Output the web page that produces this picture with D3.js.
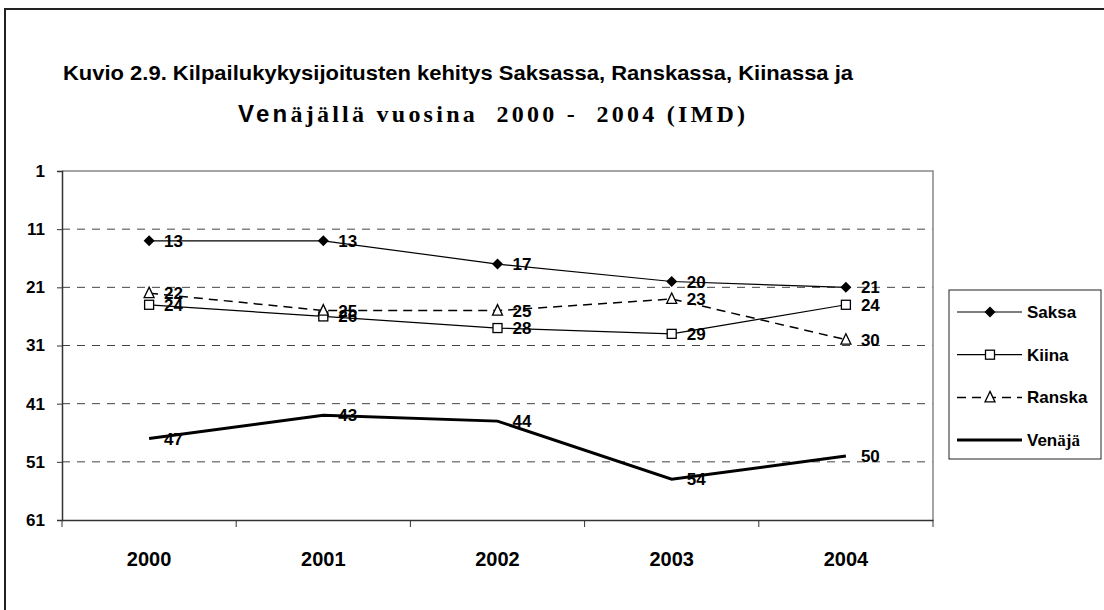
<!DOCTYPE html>
<html>
<head>
<meta charset="utf-8">
<script src="https://cdn.jsdelivr.net/npm/d3@7"></script>
<style>
  body { margin: 0; background: #fff; }
  text { font-family: Arial, "Liberation Sans", sans-serif; font-weight: bold; fill: #000; }
  .serif { font-family: "Times New Roman", "Liberation Serif", serif; }
</style>
</head>
<body>
<script>
// chart data
var years = ["2000", "2001", "2002", "2003", "2004"];
var yTicks = [1, 11, 21, 31, 41, 51, 61];
var saksa = [13, 13, 17, 20, 21];
var kiina = [24, 26, 28, 29, 24];
var ranska = [22, 25, 25, 23, 30];
var venaja = [47, 43, 44, 54, 50];

var series = [
  {name: "Saksa", values: saksa, marker: "diamond", width: 1.2, dash: null},
  {name: "Kiina", values: kiina, marker: "square", width: 1.2, dash: null},
  {name: "Ranska", values: ranska, marker: "triangle", width: 1.5, dash: "9,6"},
  {name: "Venäjä", values: venaja, marker: null, width: 3, dash: null}
];

var width = 1104, height = 610;
var pLeft = 62, pRight = 933, pTop = 171, pBottom = 520;

var svg = d3.select("body").append("svg")
    .attr("width", width)
    .attr("height", height);

// outer frame (runs off the page on right and bottom)
svg.append("rect")
    .attr("x", 5).attr("y", 9)
    .attr("width", 1200).attr("height", 700)
    .attr("fill", "none").attr("stroke", "#222").attr("stroke-width", 2);

// title
svg.append("text").attr("x", 63).attr("y", 80)
    .style("font-size", "21px")
    .attr("textLength", 790).attr("lengthAdjust", "spacingAndGlyphs")
    .text("Kuvio 2.9. Kilpailukykysijoitusten kehitys Saksassa, Ranskassa, Kiinassa ja");
var t2 = svg.append("text").attr("x", 238).attr("y", 122)
    .style("font-size", "24px")
    .attr("textLength", 507).attr("lengthAdjust", "spacing");
t2.append("tspan").text("Ven");
t2.append("tspan").attr("class", "serif").attr("xml:space", "preserve")
    .text("äjällä vuosina  2000 -  2004 (IMD)");

var x = d3.scaleBand().domain(years).range([pLeft, pRight]).padding(0);
var y = d3.scaleLinear().domain([1, 61]).range([pTop, pBottom]);
var cx = function(i) { return x(years[i]) + x.bandwidth() / 2; };

// gridlines
svg.append("g").selectAll("line")
  .data(yTicks.filter(function(d) { return d > 1 && d < 61; }))
  .join("line")
    .attr("x1", pLeft).attr("x2", pRight)
    .attr("y1", function(d) { return y(d); })
    .attr("y2", function(d) { return y(d); })
    .attr("stroke", "#444").attr("stroke-dasharray", "8,7");

// plot border top/right
svg.append("path")
    .attr("d", "M" + pLeft + "," + pTop + "H" + pRight + "V" + pBottom)
    .attr("fill", "none").attr("stroke", "#888").attr("stroke-width", 1.5);

// y axis
var yAxis = svg.append("g")
    .attr("transform", "translate(" + pLeft + ",0)")
    .call(d3.axisLeft(y).tickValues(yTicks).tickSize(5).tickPadding(12));
yAxis.select(".domain").attr("stroke", "#333").attr("stroke-width", 1.5);
yAxis.selectAll(".tick line").attr("stroke", "#333");
yAxis.selectAll("text").style("font-size", "17px").attr("font-family", null).attr("font-size", null);

// x axis
var xAxis = svg.append("g")
    .attr("transform", "translate(0," + pBottom + ")")
    .call(d3.axisBottom(x).tickSize(0).tickPadding(32));
xAxis.select(".domain").attr("stroke", "#333").attr("stroke-width", 1.5);
xAxis.selectAll("text").style("font-size", "20px").attr("font-family", null).attr("font-size", null);
xAxis.selectAll(".bound")
  .data(d3.range(years.length + 1))
  .join("line")
    .attr("class", "bound")
    .attr("x1", function(d) { return pLeft + d * x.bandwidth(); })
    .attr("x2", function(d) { return pLeft + d * x.bandwidth(); })
    .attr("y1", 0).attr("y2", 7)
    .attr("stroke", "#333");

function marker(g, type, px, py) {
  if (type === "diamond") {
    g.append("path")
      .attr("d", "M" + px + "," + (py - 5.5) + "L" + (px + 5.5) + "," + py + "L" + px + "," + (py + 5.5) + "L" + (px - 5.5) + "," + py + "Z")
      .attr("fill", "#000");
  } else if (type === "square") {
    g.append("rect").attr("x", px - 4.5).attr("y", py - 4.5).attr("width", 9).attr("height", 9)
      .attr("fill", "#fff").attr("stroke", "#000").attr("stroke-width", 1.3);
  } else if (type === "triangle") {
    g.append("path")
      .attr("d", "M" + px + "," + (py - 6) + "L" + (px + 5) + "," + (py + 4.5) + "L" + (px - 5) + "," + (py + 4.5) + "Z")
      .attr("fill", "#fff").attr("stroke", "#000").attr("stroke-width", 1.3);
  }
}

var line = d3.line()
    .x(function(d, i) { return cx(i); })
    .y(function(d) { return y(d); });

series.forEach(function(s) {
  var g = svg.append("g");
  g.append("path")
    .datum(s.values)
    .attr("d", line)
    .attr("fill", "none")
    .attr("stroke", "#000")
    .attr("stroke-width", s.width)
    .attr("stroke-dasharray", s.dash);
  s.values.forEach(function(v, i) {
    if (s.marker) marker(g, s.marker, cx(i), y(v));
  });
  g.selectAll(".lbl")
    .data(s.values)
    .join("text")
      .attr("x", function(d, i) { return cx(i) + 15; })
      .attr("y", function(d) { return y(d) + 6; })
      .style("font-size", "17px")
      .text(function(d) { return d; });
});

// legend
var lg = svg.append("g");
lg.append("rect")
    .attr("x", 949).attr("y", 290).attr("width", 152).attr("height", 169)
    .attr("fill", "#fff").attr("stroke", "#222").attr("stroke-width", 1);
series.forEach(function(s, i) {
  var ly = 312 + i * 42.7;
  lg.append("line")
    .attr("x1", 957).attr("x2", 1022).attr("y1", ly).attr("y2", ly)
    .attr("stroke", "#000").attr("stroke-width", s.width)
    .attr("stroke-dasharray", s.dash);
  if (s.marker) marker(lg, s.marker, 990, ly);
  var tx = lg.append("text").attr("x", 1027).attr("y", ly + 6).style("font-size", "17px");
  if (s.name === "Venäjä") {
    tx.append("tspan").text("Ven");
    tx.append("tspan").attr("class", "serif").text("äjä");
  } else {
    tx.text(s.name);
  }
});
</script>
</body>
</html>
